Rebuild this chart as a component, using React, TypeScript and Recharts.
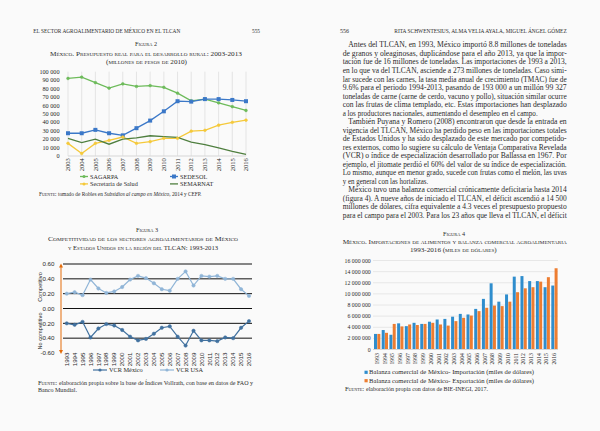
import React from 'react';
import { LineChart, Line, BarChart, Bar, XAxis, YAxis, CartesianGrid, Legend, ReferenceLine } from 'recharts';

const SERIF = '"Liberation Serif", "DejaVu Serif", serif';
const SANS = '"Liberation Sans", Arial, sans-serif';
const INK = '#2a2a2a';

// ---------- Figura 2 ----------
const fig2Years = ['2003', '2004', '2005', '2006', '2007', '2008', '2009', '2010', '2011', '2012', '2013', '2014', '2015', '2016'];
const fig2Sagarpa = [92000, 93500, 87000, 80500, 85500, 82500, 83500, 81500, 74500, 65500, 67500, 63000, 58500, 54000];
const fig2Sedesol = [27000, 27000, 31000, 27000, 24500, 33000, 42000, 53000, 65000, 64500, 67500, 67500, 66500, 65000];
const fig2Salud = [15000, 3000, 15000, 18500, 22500, 15000, 17000, 21000, 21000, 29500, 30500, 36500, 40000, 42500];
const fig2Semarnat = [21000, 16000, 20000, 14000, 20000, 21500, 24000, 23000, 22000, 16500, 13500, 9500, 5500, 2000];
const fig2Ticks = [0, 10000, 20000, 30000, 40000, 50000, 60000, 70000, 80000, 90000, 100000];
const fig2Order = ['SAGARPA', 'SEDESOL', 'Secretaría de Salud', 'SEMARNAT'];

// ---------- Figura 3 ----------
const fig3Years = ['1993', '1994', '1995', '1996', '1997', '1998', '1999', '2000', '2001', '2002', '2003', '2004', '2005', '2006', '2007', '2008', '2009', '2010', '2011', '2012', '2013', '2014', '2015', '2016'];
const fig3Mexico = [-0.2, -0.22, -0.18, -0.39, -0.27, -0.21, -0.23, -0.29, -0.38, -0.43, -0.41, -0.34, -0.26, -0.24, -0.38, -0.5, -0.3, -0.43, -0.43, -0.44, -0.39, -0.4, -0.26, -0.17];
const fig3USA = [0.2, 0.22, 0.18, 0.39, 0.27, 0.21, 0.23, 0.29, 0.39, 0.44, 0.41, 0.34, 0.26, 0.24, 0.4, 0.5, 0.31, 0.44, 0.43, 0.44, 0.4, 0.4, 0.26, 0.17];
const fig3Ticks = [-0.6, -0.4, -0.2, 0, 0.2, 0.4, 0.6];
const fig3GridLines = [-0.4, -0.2, 0, 0.2, 0.4, 0.6];
const fig3Order = ['VCR México', 'VCR USA'];

// ---------- Figura 4 ----------
const fig4Years = ['1993', '1994', '1995', '1996', '1997', '1998', '1999', '2000', '2001', '2002', '2003', '2004', '2005', '2006', '2007', '2008', '2009', '2010', '2011', '2012', '2013', '2014', '2015', '2016'];
const fig4Import = [2800000, 3500000, 2650000, 4700000, 4200000, 4800000, 4600000, 5000000, 5400000, 5500000, 5900000, 6400000, 6300000, 7300000, 9100000, 11900000, 8600000, 9900000, 13100000, 13200000, 12300000, 12300000, 11200000, 11500000];
const fig4Export = [2800000, 3000000, 4600000, 4150000, 4500000, 4400000, 4600000, 4800000, 4500000, 4300000, 5100000, 5700000, 6100000, 6900000, 7500000, 7900000, 7800000, 8600000, 10300000, 11000000, 11200000, 12200000, 13000000, 14600000];
const fig4Ticks = [0, 2000000, 4000000, 6000000, 8000000, 10000000, 12000000, 14000000, 16000000];
const fig4ImportName = 'Balanza comercial de México- Importación (miles de dólares)';
const fig4ExportName = 'Balanza comercial de México- Exportación (miles de dólares)';
const fig4Order = [fig4ImportName, fig4ExportName];

// ---------- Body text (page 556) ----------
const bodyLines = [
  'Antes del TLCAN, en 1993, México importó 8.8 millones de toneladas',
  'de granos y oleaginosas, duplicándose para el año 2013, ya que la impor-',
  'tación fue de 16 millones de toneladas. Las importaciones de 1993 a 2013,',
  'en lo que va del TLCAN, asciende a 273 millones de toneladas. Caso simi-',
  'lar sucede con las carnes, la tasa media anual de crecimiento (TMAC) fue de',
  '9.6% para el periodo 1994-2013, pasando de 193 000 a un millón 99 327',
  'toneladas de carne (carne de cerdo, vacuno y pollo), situación similar ocurre',
  'con las frutas de clima templado, etc. Estas importaciones han desplazado',
  'a los productores nacionales, aumentando el desempleo en el campo.',
  'También Puyana y Romero (2008) encontraron que desde la entrada en',
  'vigencia del TLCAN, México ha perdido peso en las importaciones totales',
  'de Estados Unidos y ha sido desplazado de este mercado por competido-',
  'res externos, como lo sugiere su cálculo de Ventaja Comparativa Revelada',
  '(VCR) o índice de especialización desarrollado por Ballassa en 1967. Por',
  'ejemplo, el jitomate perdió el 60% del valor de su índice de especialización.',
  'Lo mismo, aunque en menor grado, sucede con frutas como el melón, las uvas',
  'y en general con las hortalizas.',
  'México tuvo una balanza comercial crónicamente deficitaria hasta 2014',
  '(figura 4). A nueve años de iniciado el TLCAN, el déficit ascendió a 14 500',
  'millones de dólares, cifra equivalente a 4.3 veces el presupuesto propuesto',
  'para el campo para el 2003. Para los 23 años que lleva el TLCAN, el déficit',
];
const indentLines = [0, 9, 17];
const shortLineEnds: Record<number, number> = { 8: 537.7, 16: 428.3 };

const fmtSpace = (n: number) => String(n).replace(/\B(?=(\d{3})+(?!\d))/g, ' ');

const fig2Data = fig2Years.map((y, i) => ({
  year: y,
  SAGARPA: fig2Sagarpa[i],
  SEDESOL: fig2Sedesol[i],
  'Secretaría de Salud': fig2Salud[i],
  SEMARNAT: fig2Semarnat[i],
}));
const fig3Data = fig3Years.map((y, i) => ({ year: y, 'VCR México': fig3Mexico[i], 'VCR USA': fig3USA[i] }));
const fig4Data = fig4Years.map((y, i) => ({ year: y, imp: fig4Import[i], exp: fig4Export[i] }));

const C2 = { sagarpa: '#6dbb5a', sedesol: '#3b78c8', salud: '#f5c93a', semarnat: '#4f7f3f' };
const C3 = { mex: '#41719f', usa: '#90b5d7' };
const C4 = { imp: '#2f8dcd', exp: '#ed7d31' };

const ordered = (items: any[], order: string[]) =>
  [...(items || [])].sort((a, b) => order.indexOf(a.value) - order.indexOf(b.value));

function RotTick(props: any) {
  const { x, y, payload, fs, fam, shift = 0 } = props;
  const ay = y + shift;
  return (
    <text x={x} y={ay} transform={`rotate(-90 ${x} ${ay})`} textAnchor="end" dy="0.35em" fontSize={fs} fontFamily={fam} fill={INK}>
      {payload.value}
    </text>
  );
}

const fig2Markers: Record<string, string> = { SAGARPA: 'circle', SEDESOL: 'square', 'Secretaría de Salud': 'circle', SEMARNAT: 'none' };

function Fig2Legend(props: any) {
  const items = ordered(props.payload, fig2Order);
  return (
    <svg width={180} height={16} style={{ display: 'block', overflow: 'visible' }}>
      {items.map((it: any, i: number) => {
        const cx = (i % 2) * 90;
        const cy = 4.5 + Math.floor(i / 2) * 7.4;
        const m = fig2Markers[it.value];
        return (
          <g key={it.value}>
            <line x1={cx + 2} x2={cx + 10} y1={cy} y2={cy} stroke={it.color} strokeWidth={1.3} />
            {m === 'circle' && <circle cx={cx + 6} cy={cy} r={1.5} fill={it.color} />}
            {m === 'square' && <rect x={cx + 4} y={cy - 2} width={4} height={4} fill={it.color} />}
            <text x={cx + 12} y={cy} dy="0.35em" fontSize={6.2} fontFamily={SERIF} fill={INK}>{it.value}</text>
          </g>
        );
      })}
    </svg>
  );
}

function Fig3Legend(props: any) {
  const items = ordered(props.payload, fig3Order);
  return (
    <svg width={130} height={10} style={{ display: 'block', overflow: 'visible' }}>
      {items.map((it: any, i: number) => {
        const cx = i * 67;
        return (
          <g key={it.value}>
            <line x1={cx + 3} x2={cx + 17} y1={5} y2={5} stroke={it.color} strokeWidth={1.2} />
            <circle cx={cx + 10} cy={5} r={1.6} fill={it.color} />
            <text x={cx + 19} y={5} dy="0.35em" fontSize={6.3} fontFamily={SERIF} fill={INK}>{it.value}</text>
          </g>
        );
      })}
    </svg>
  );
}

function Fig4Legend(props: any) {
  const items = ordered(props.payload, fig4Order);
  return (
    <svg width={200} height={17} style={{ display: 'block', overflow: 'visible' }}>
      {items.map((it: any, i: number) => {
        const cy = 4.3 + i * 8.4;
        return (
          <g key={it.value}>
            <rect x={1.5} y={cy - 1.6} width={3.2} height={3.2} fill={it.color} />
            <text x={6} y={cy} dy="0.35em" fontSize={6.2} fontFamily={SERIF} fill={INK} textLength={165} lengthAdjust="spacingAndGlyphs">{it.value}</text>
          </g>
        );
      })}
    </svg>
  );
}

function Txt(props: any) {
  const { x, y, w, size = 7, sc = false, italic = false, family = SERIF, children } = props;
  return (
    <text
      x={x}
      y={y}
      fontSize={size}
      textLength={w}
      lengthAdjust="spacingAndGlyphs"
      fontFamily={family}
      fontStyle={italic ? 'italic' : undefined}
      style={sc ? { fontVariant: 'small-caps' } : undefined}
      fill={INK}
    >
      {children}
    </text>
  );
}

function PageText() {
  const left = 342.7;
  const right = 566.7;
  return (
    <svg width={600} height={431} style={{ position: 'absolute', left: 0, top: 0, pointerEvents: 'none' }}>
      {/* Left page */}
      <Txt x={33.3} y={33} w={147} size={5.4}>EL SECTOR AGROALIMENTARIO DE MÉXICO EN EL TLCAN</Txt>
      <Txt x={252} y={33} w={8} size={6.3}>555</Txt>
      <Txt x={135} y={45.5} w={22} size={7} sc>Figura 2</Txt>
      <Txt x={50} y={55.5} w={192} size={7} sc>México. Presupuesto real para el desarrollo rural: 2003-2013</Txt>
      <Txt x={106} y={64} w={81} size={7} sc>(millones de pesos de 2010)</Txt>

      <text x={39} y={196.3} fontSize={5.35} fontFamily={SERIF} fill={INK}>
        <tspan style={{ fontVariant: 'small-caps' }}>Fuente:</tspan> tomado de Robles en <tspan fontStyle="italic">Subsidios al campo en México</tspan>, 2014 y CEFP.
      </text>

      <Txt x={136} y={231.5} w={22} size={7} sc>Figura 3</Txt>
      <Txt x={48} y={241} w={190} size={7} sc>Competitividad de los sectores agroalimentarios de México</Txt>
      <Txt x={68} y={250} w={150} size={7} sc>y Estados Unidos en la región del TLCAN: 1993-2013</Txt>

      {/* orange competitiveness axis */}
      <line x1={61} x2={61} y1={266} y2={351.5} stroke="#e46c0a" strokeWidth={1} />
      <path d="M61 263.5 L59 267.5 L63 267.5 Z" fill="#e46c0a" />
      <path d="M61 354 L59 350 L63 350 Z" fill="#e46c0a" />
      <text x={40} y={287} transform="rotate(-90 40 287)" textAnchor="middle" dy="0.35em" fontSize={5.6} fontFamily={SANS} fill={INK}>Competitivo</text>
      <text x={40} y={331} transform="rotate(-90 40 331)" textAnchor="middle" dy="0.35em" fontSize={5.6} fontFamily={SANS} fill={INK}>No competitivo</text>

      <Txt x={38} y={384.7} w={19} size={6.3} sc>Fuente:</Txt>
      <Txt x={59} y={384.7} w={194} size={6.3}>elaboración propia sobre la base de Índices Vollrath, con base en datos de FAO y</Txt>
      <Txt x={38} y={392.2} w={39} size={6.3}>Banco Mundial.</Txt>

      {/* Right page */}
      <Txt x={340} y={33} w={9} size={6.3}>556</Txt>
      <Txt x={394.3} y={33} w={172.4} size={5.4}>RITA SCHWENTESIUS, ALMA VELIA AYALA, MIGUEL ÁNGEL GÓMEZ</Txt>
      {bodyLines.map((ln, i) => {
        const x0 = indentLines.includes(i) ? left + 5.6 : left;
        const x1 = shortLineEnds[i] ?? right;
        const y = 45 + 8.53 * i + 2.4;
        return (
          <text key={i} x={x0} y={y} fontSize={7.4} fontFamily={SERIF} fill={INK} textLength={x1 - x0} lengthAdjust="spacingAndGlyphs">
            {ln}
          </text>
        );
      })}
      <Txt x={443} y={235.5} w={22} size={7} sc>Figura 4</Txt>
      <Txt x={342.7} y={244} w={224} size={7} sc>México. Importaciones de alimentos y balanza comercial agroalimentaria</Txt>
      <Txt x={410} y={252.4} w={86.7} size={7} sc>1993-2016 (miles de dólares)</Txt>
      <Txt x={345} y={391.4} w={19} size={6.3} sc>Fuente:</Txt>
      <Txt x={366} y={391.4} w={122} size={6.3}>elaboración propia con datos de BIE-INEGI, 2017.</Txt>
    </svg>
  );
}

export default function App() {
  return (
    <div style={{ position: 'fixed', left: 0, top: 0, width: 600, height: 431, background: '#fafafa', overflow: 'hidden' }}>
      <PageText />

      {/* Figura 2 */}
      <div style={{ position: 'absolute', left: 0, top: 0 }}>
        <LineChart width={300} height={200} data={fig2Data} margin={{ top: 71.7, right: 54, bottom: 24, left: 0 }}>
          <CartesianGrid vertical horizontal={false} stroke="#dedede" strokeWidth={0.8} />
          <XAxis
            dataKey="year"
            height={20}
            interval={0}
            axisLine={{ stroke: '#d6d6d6' }}
            tickLine={false}
            tickSize={0}
            tickMargin={2.3}
            tick={(p: any) => <RotTick {...p} fs={6.5} fam={SERIF} />}
          />
          <YAxis
            width={68}
            domain={[0, 100000]}
            ticks={fig2Ticks}
            interval={0}
            axisLine={false}
            tickLine={false}
            tickSize={0}
            tickMargin={8.5}
            tickFormatter={fmtSpace}
            tick={{ fontSize: 6.2, fontFamily: SERIF, fill: INK }}
          />
          <Line dataKey="SAGARPA" stroke={C2.sagarpa} strokeWidth={1.3} isAnimationActive={false}
            dot={{ r: 1.4, fill: C2.sagarpa, stroke: C2.sagarpa, strokeWidth: 0.5 }} />
          <Line dataKey="SEDESOL" stroke={C2.sedesol} strokeWidth={1.3} isAnimationActive={false}
            dot={(p: any) => <rect key={`sq${p.index}`} x={p.cx - 2} y={p.cy - 2} width={4} height={4} fill={C2.sedesol} />} />
          <Line dataKey="Secretaría de Salud" stroke={C2.salud} strokeWidth={1.3} isAnimationActive={false}
            dot={{ r: 1.4, fill: C2.salud, stroke: C2.salud, strokeWidth: 0.5 }} />
          <Line dataKey="SEMARNAT" stroke={C2.semarnat} strokeWidth={1.3} isAnimationActive={false} dot={false} />
          <Legend layout="horizontal" verticalAlign="middle" align="center"
            wrapperStyle={{ left: 78, top: 172, width: 180, height: 16 }} content={(p: any) => <Fig2Legend {...p} />} />
        </LineChart>
      </div>

      {/* Figura 3 */}
      <div style={{ position: 'absolute', left: 0, top: 255 }}>
        <LineChart width={300} height={130} data={fig3Data} margin={{ top: 9, right: 48, bottom: 12, left: 0 }}>
          <XAxis
            dataKey="year"
            height={20}
            interval={0}
            padding={{ left: 3.7, right: 3 }}
            axisLine={false}
            tickLine={false}
            tickSize={0}
            tickMargin={0}
            tick={(p: any) => <RotTick {...p} fs={6.2} fam={SANS} shift={-0.5} />}
          />
          <YAxis
            width={63}
            domain={[-0.6, 0.6]}
            ticks={fig3Ticks}
            interval={0}
            axisLine={false}
            tickLine={false}
            tickSize={0}
            tickMargin={8.5}
            tickFormatter={(v: number) => v.toFixed(2)}
            tick={{ fontSize: 6.2, fontFamily: SANS, fill: INK }}
          />
          {fig3GridLines.map((v) => (
            <ReferenceLine key={v} y={v} stroke="#111" strokeWidth={1} />
          ))}
          <Line dataKey="VCR México" stroke={C3.mex} strokeWidth={1.2} isAnimationActive={false}
            dot={{ r: 1.7, fill: C3.mex, stroke: C3.mex, strokeWidth: 0.5 }} />
          <Line dataKey="VCR USA" stroke={C3.usa} strokeWidth={1.2} isAnimationActive={false}
            dot={{ r: 1.7, fill: C3.usa, stroke: C3.usa, strokeWidth: 0.5 }} />
          <Legend layout="horizontal" verticalAlign="middle" align="center"
            wrapperStyle={{ left: 90, top: 110, width: 130, height: 10 }} content={(p: any) => <Fig3Legend {...p} />} />
        </LineChart>
      </div>

      {/* Figura 4 */}
      <div style={{ position: 'absolute', left: 300, top: 250 }}>
        <BarChart width={300} height={150} data={fig4Data} margin={{ top: 10.5, right: 42, bottom: 30.5, left: 0 }}
          barCategoryGap="13%" barGap={0.3}>
          <CartesianGrid horizontal vertical={false} stroke="#e2e2e2" strokeWidth={0.8} />
          <XAxis
            dataKey="year"
            height={20}
            interval={0}
            axisLine={{ stroke: '#d6d6d6' }}
            tickLine={false}
            tickSize={0}
            tickMargin={3.5}
            tick={(p: any) => <RotTick {...p} fs={5.8} fam={SERIF} />}
          />
          <YAxis
            width={73}
            domain={[0, 16000000]}
            ticks={fig4Ticks}
            interval={0}
            axisLine={false}
            tickLine={false}
            tickSize={0}
            tickMargin={2.3}
            tickFormatter={fmtSpace}
            tick={{ fontSize: 5.8, fontFamily: SERIF, fill: INK }}
          />
          <Bar dataKey="imp" name={fig4ImportName} fill={C4.imp} isAnimationActive={false} />
          <Bar dataKey="exp" name={fig4ExportName} fill={C4.exp} isAnimationActive={false} />
          <Legend layout="horizontal" verticalAlign="middle" align="center"
            wrapperStyle={{ left: 63, top: 118, width: 200, height: 17 }} content={(p: any) => <Fig4Legend {...p} />} />
        </BarChart>
      </div>
    </div>
  );
}
